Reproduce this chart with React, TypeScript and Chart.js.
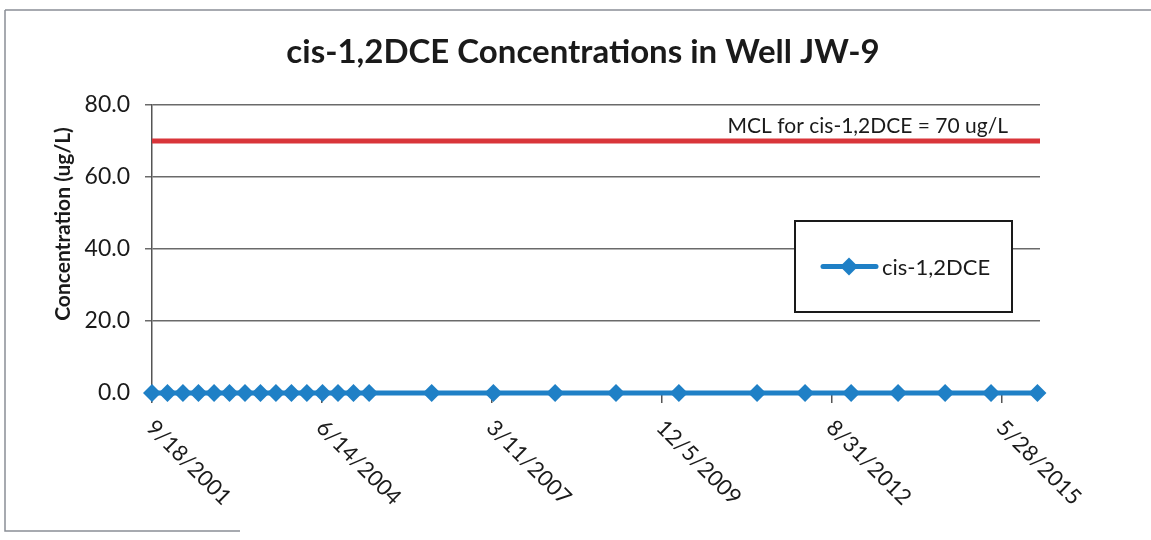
import React, { useEffect, useRef } from "react";
import { Chart, registerables } from "chart.js";

Chart.register(...registerables);

// ---- data ----
const chartTitle = "cis-1,2DCE Concentrations in Well JW-9";
const yAxisTitle = "Concentration (ug/L)";
const seriesName = "cis-1,2DCE";
const mclLabel = "MCL for cis-1,2DCE = 70 ug/L";
const mclValue = 70;

const sampleDates = [
  "2001-09-18", "2001-12-18", "2002-03-19", "2002-06-18", "2002-09-18",
  "2002-12-18", "2003-03-19", "2003-06-18", "2003-09-17", "2003-12-17",
  "2004-03-17", "2004-06-17", "2004-09-16", "2004-12-16", "2005-03-18",
  "2006-03-21", "2007-03-19", "2008-03-16", "2009-03-09", "2010-03-14",
  "2011-06-17", "2012-03-25", "2012-12-21", "2013-09-23", "2014-06-27",
  "2015-03-24", "2015-12-22",
];
const cisDCEValues = [
  0, 0, 0, 0, 0, 0, 0, 0, 0, 0, 0, 0, 0, 0, 0,
  0, 0, 0, 0, 0, 0, 0, 0, 0, 0, 0, 0,
];

const xAxisStart = "2001-09-18";
const xAxisEnd = "2016-01-06";
const xTickStepDays = 1000;
const yMin = 0;
const yMax = 80;
const yStep = 20;

// ---- helpers ----
const DAY = 86400000;
const toDays = (s: string) => {
  const [y, m, d] = s.split("-").map(Number);
  return Date.UTC(y, m - 1, d) / DAY;
};
const startDays = toDays(xAxisStart);
const offsetDays = (s: string) => toDays(s) - startDays;
const fmtDate = (offset: number) => {
  const dt = new Date((startDays + offset) * DAY);
  return `${dt.getUTCMonth() + 1}/${dt.getUTCDate()}/${dt.getUTCFullYear()}`;
};

const FONT = "Lato, 'Open Sans', sans-serif";
const BLUE = "#1f80c6";
const RED = "#d9353a";
const TEXT = "#1a1a1a";

const decorPlugin = {
  id: "decor",
  beforeDraw(chart: any) {
    const ctx = chart.ctx;
    ctx.save();
    ctx.fillStyle = "#ffffff";
    ctx.fillRect(0, 0, chart.width, chart.height);
    ctx.strokeStyle = "#8a8f96";
    ctx.lineWidth = 1.5;
    ctx.beginPath();
    ctx.moveTo(5, 10);
    ctx.lineTo(1151, 10);
    ctx.moveTo(5, 10);
    ctx.lineTo(5, 531);
    ctx.lineTo(240, 531);
    ctx.stroke();
    ctx.restore();
  },
  afterDraw(chart: any) {
    const ctx = chart.ctx;
    const xs = chart.scales.x;
    const ys = chart.scales.y;
    const area = chart.chartArea;
    ctx.save();
    // title
    ctx.fillStyle = TEXT;
    ctx.font = `bold 33px ${FONT}`;
    ctx.textAlign = "center";
    ctx.textBaseline = "alphabetic";
    ctx.fillText(chartTitle, 583, 63);
    // y axis title
    ctx.save();
    ctx.translate(70, 224);
    ctx.rotate(-Math.PI / 2);
    ctx.font = `bold 21px ${FONT}`;
    ctx.textAlign = "center";
    ctx.fillText(yAxisTitle, 0, 0);
    ctx.restore();
    // x tick labels (rotated)
    ctx.font = `22px ${FONT}`;
    ctx.textAlign = "left";
    ctx.textBaseline = "alphabetic";
    xs.ticks.forEach((t: any) => {
      const px = xs.getPixelForValue(t.value);
      ctx.save();
      ctx.translate(px - 7, area.bottom + 36);
      ctx.rotate(Math.PI / 4);
      ctx.fillText(String(t.label), 0, 0);
      ctx.restore();
    });
    // MCL label
    ctx.font = `21px ${FONT}`;
    ctx.textAlign = "right";
    ctx.fillText(mclLabel, area.right - 32, ys.getPixelForValue(mclValue) - 8);
    // legend box
    const lx = 795, ly = 221, lw = 217, lh = 91;
    ctx.fillStyle = "#ffffff";
    ctx.fillRect(lx, ly, lw, lh);
    ctx.strokeStyle = "#1a1a1a";
    ctx.lineWidth = 2;
    ctx.strokeRect(lx, ly, lw, lh);
    const ds = chart.data.datasets[0];
    const cy = ly + lh / 2;
    ctx.strokeStyle = ds.borderColor;
    ctx.lineWidth = ds.borderWidth;
    ctx.lineCap = "round";
    ctx.beginPath();
    ctx.moveTo(823, cy);
    ctx.lineTo(876, cy);
    ctx.stroke();
    const r = ds.pointRadius;
    ctx.fillStyle = ds.pointBackgroundColor;
    ctx.beginPath();
    ctx.moveTo(849, cy - r);
    ctx.lineTo(849 + r, cy);
    ctx.lineTo(849, cy + r);
    ctx.lineTo(849 - r, cy);
    ctx.closePath();
    ctx.fill();
    ctx.fillStyle = TEXT;
    ctx.font = `22px ${FONT}`;
    ctx.textAlign = "left";
    ctx.textBaseline = "middle";
    ctx.fillText(ds.label, 882, cy + 1);
    ctx.restore();
  },
};

export default function App() {
  const canvasRef = useRef<HTMLCanvasElement | null>(null);

  useEffect(() => {
    let chart: Chart | null = null;
    let cancelled = false;
    const build = () => {
      if (cancelled || !canvasRef.current) return;
      const xMax = offsetDays(xAxisEnd);
      chart = new Chart(canvasRef.current, {
        type: "line",
        data: {
          datasets: [
            {
              label: seriesName,
              data: sampleDates.map((d, i) => ({ x: offsetDays(d), y: cisDCEValues[i] })),
              borderColor: BLUE,
              backgroundColor: BLUE,
              pointBackgroundColor: BLUE,
              pointBorderColor: BLUE,
              borderWidth: 5,
              pointStyle: "rectRot",
              pointRadius: 9,
              pointBorderWidth: 0,
              tension: 0,
              clip: false,
            } as any,
            {
              label: "MCL",
              data: [
                { x: 0, y: mclValue },
                { x: xMax, y: mclValue },
              ],
              borderColor: RED,
              borderWidth: 5,
              pointRadius: 0,
              tension: 0,
              clip: false,
            } as any,
          ],
        },
        options: {
          responsive: false,
          animation: false,
          events: [],
          layout: { padding: { left: 55, right: 111, top: 105, bottom: 0 } },
          plugins: {
            legend: { display: false },
            title: { display: false },
            tooltip: { enabled: false },
          },
          scales: {
            x: {
              type: "linear",
              min: 0,
              max: xMax,
              afterBuildTicks: (s: any) => {
                const ticks: any[] = [];
                for (let v = 0; v <= xMax; v += xTickStepDays) ticks.push({ value: v });
                s.ticks = ticks;
              },
              afterFit: (s: any) => {
                s.height = 147;
              },
              ticks: {
                display: false,
                callback: (v: any) => fmtDate(Number(v)),
              },
              grid: {
                drawOnChartArea: false,
                drawTicks: true,
                tickLength: 10,
                color: "#555",
                lineWidth: 1.5,
              },
              border: { display: true, color: "#555", width: 1.5 },
            },
            y: {
              min: yMin,
              max: yMax,
              afterFit: (s: any) => {
                s.width = 97;
              },
              ticks: {
                stepSize: yStep,
                padding: 15,
                color: TEXT,
                font: { family: FONT, size: 23 },
                callback: (v: any) => Number(v).toFixed(1),
              },
              grid: { color: "#6a6a6a", lineWidth: 1.5, tickLength: 7 },
              border: { display: true, color: "#555", width: 1.5 },
            },
          },
        },
        plugins: [decorPlugin],
      });
    };
    const fonts = (document as any).fonts;
    if (fonts && fonts.load) {
      Promise.all([
        fonts.load(`22px Lato`),
        fonts.load(`bold 22px Lato`),
      ])
        .catch(() => {})
        .then(build);
    } else {
      build();
    }
    return () => {
      cancelled = true;
      if (chart) chart.destroy();
    };
  }, []);

  return (
    <div style={{ position: "absolute", left: 0, top: 0, width: 1151, height: 540, background: "#fff" }}>
      <canvas ref={canvasRef} width={1151} height={540} style={{ display: "block" }} />
    </div>
  );
}
